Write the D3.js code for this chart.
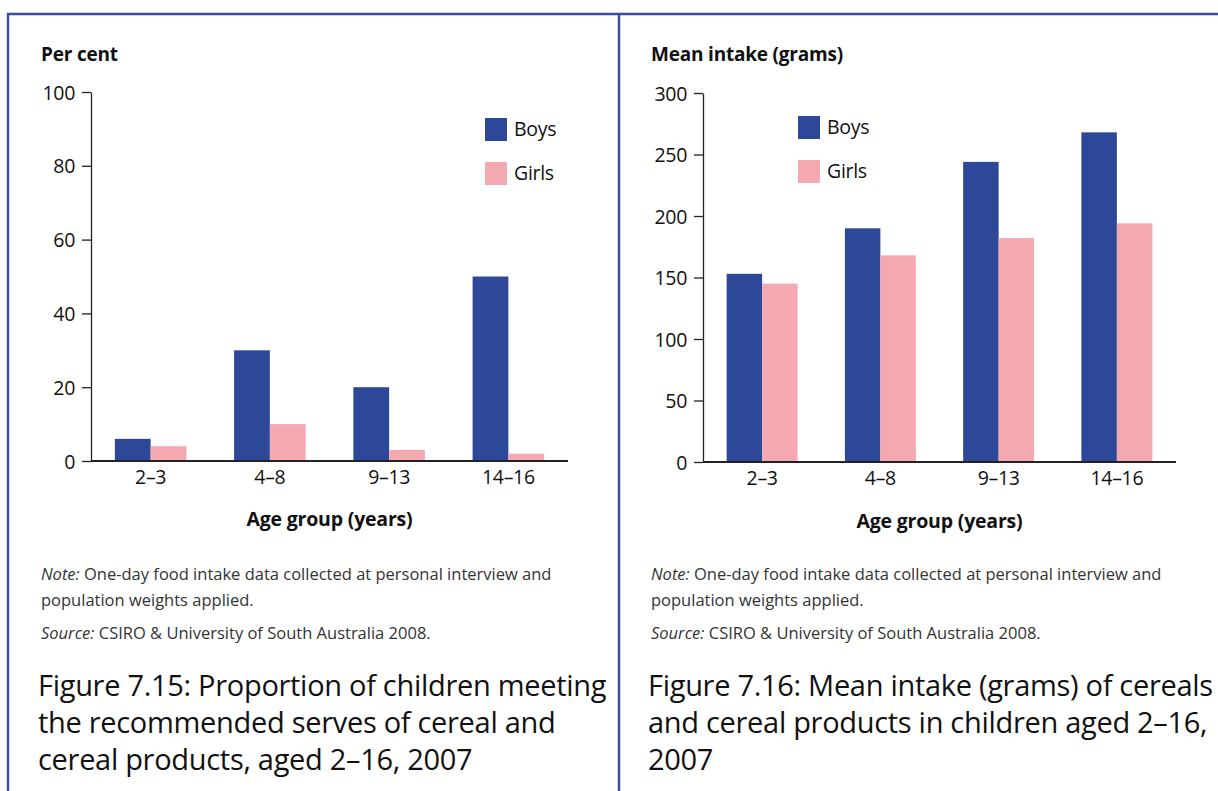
<!DOCTYPE html>
<html><head><meta charset="utf-8">
<script src="https://cdn.jsdelivr.net/npm/d3@7"></script>
<style>
body{margin:0;background:#fff;}
text{font-family:"Open Sans","Noto Sans",sans-serif;}
</style></head>
<body><svg id="c" width="1218" height="791"></svg>
<script>
const categories = ["2–3","4–8","9–13","14–16"];
const seriesNames = ["Boys","Girls"];
const boysPct = [6,30,20,50];
const girlsPct = [4,10,3,2];
const boysGrams = [153,190,244,268];
const girlsGrams = [145,168,182,194];
const pctTicks = [0,20,40,60,80,100];
const gramTicks = [0,50,100,150,200,250,300];

const colors = {Boys:"#2e4899", Girls:"#f4a8b0"};
const svg = d3.select("#c");

// frame
svg.append("line").attr("x1",7).attr("x2",1218).attr("y1",14).attr("y2",14).attr("stroke","#3a4ea3").attr("stroke-width",2.5);
svg.append("line").attr("x1",8).attr("x2",8).attr("y1",13).attr("y2",791).attr("stroke","#3a4ea3").attr("stroke-width",2.5);
svg.append("line").attr("x1",619).attr("x2",619).attr("y1",13).attr("y2",791).attr("stroke","#3a4ea3").attr("stroke-width",2.5);

function panel(o){
  const g = svg.append("g");
  const x = d3.scaleBand().domain(categories).range([o.x0,o.x1]).paddingInner(0.4).paddingOuter(0.2);
  const xs = d3.scaleBand().domain(seriesNames).range([0,x.bandwidth()]);
  const y = d3.scaleLinear().domain([0,o.max]).range([o.y0,o.y1]);
  const data = categories.map((c,i)=>({c, vals:[{s:"Boys",v:o.boys[i]},{s:"Girls",v:o.girls[i]}]}));
  g.selectAll("g.grp").data(data).join("g").attr("transform",d=>`translate(${x(d.c)},0)`)
    .selectAll("rect").data(d=>d.vals).join("rect")
    .attr("x",d=>xs(d.s)).attr("width",xs.bandwidth())
    .attr("y",d=>y(d.v)).attr("height",d=>y(0)-y(d.v)).attr("fill",d=>colors[d.s]);
  // y axis
  const ya = g.append("g").attr("transform",`translate(${o.x0},0)`)
    .call(d3.axisLeft(y).tickValues(o.ticks).tickSize(9).tickSizeOuter(0).tickPadding(7));
  ya.select(".domain").attr("stroke","#222").attr("stroke-width",1.3);
  ya.selectAll(".tick line").attr("stroke","#222").attr("stroke-width",1.3);
  ya.selectAll(".tick text").attr("font-size",19.5).attr("fill","#111").attr("font-family","Open Sans").attr("dy","0.36em").attr("letter-spacing","-0.3");
  // x axis
  const xa = g.append("g").attr("transform",`translate(0,${o.y0})`)
    .call(d3.axisBottom(x).tickSize(0).tickPadding(9));
  xa.select(".domain").attr("stroke","#222").attr("stroke-width",2).attr("d",`M${o.x0},0H${o.x1}`);
  xa.selectAll(".tick text").attr("font-size",19.5).attr("fill","#111").attr("font-family","Open Sans").attr("letter-spacing","-0.3");
  // titles
  g.append("text").attr("x",o.tx).attr("y",61).attr("font-size",19).attr("font-weight","bold").attr("letter-spacing","-0.2").attr("fill","#111").text(o.ytitle);
  g.append("text").attr("x",(o.x0+o.x1)/2).attr("y",o.xty).attr("text-anchor","middle").attr("font-size",19.5).attr("font-weight","bold").attr("letter-spacing","-0.2").attr("fill","#111").text("Age group (years)");
  // legend
  seriesNames.forEach((s,i)=>{
    g.append("rect").attr("x",o.lx).attr("y",o.ly+i*44).attr("width",22).attr("height",23).attr("fill",colors[s]);
    g.append("text").attr("x",o.lx+29).attr("y",o.ly+i*44+18).attr("font-size",19.5).attr("letter-spacing","-0.3").attr("fill","#111").text(s);
  });
  // notes
  const n = g.append("text").attr("x",o.tx).attr("y",580).attr("font-size",16.5).attr("fill","#333");
  n.append("tspan").attr("font-style","italic").text("Note:");
  n.append("tspan").text(" One-day food intake data collected at personal interview and");
  g.append("text").attr("x",o.tx).attr("y",606).attr("font-size",16.5).attr("fill","#333").text("population weights applied.");
  const s = g.append("text").attr("x",o.tx).attr("y",639).attr("font-size",16.5).attr("fill","#333");
  s.append("tspan").attr("font-style","italic").text("Source:");
  s.append("tspan").text(" CSIRO & University of South Australia 2008.");
  o.caption.forEach((line,i)=>{
    g.append("text").attr("x",o.tx-3).attr("y",696+i*37).attr("font-size",29).attr("fill","#111").attr("letter-spacing","-0.3").text(line);
  });
}

panel({x0:91,x1:568,y0:461,y1:92,max:100,boys:boysPct,girls:girlsPct,ticks:pctTicks,
  tx:41,xty:526,ytitle:"Per cent",lx:485,ly:118,
  caption:["Figure 7.15: Proportion of children meeting","the recommended serves of cereal and","cereal products, aged 2–16, 2007"]});
panel({x0:703,x1:1176,y0:462,y1:93,max:300,boys:boysGrams,girls:girlsGrams,ticks:gramTicks,
  tx:651,xty:528,ytitle:"Mean intake (grams)",lx:798,ly:116,
  caption:["Figure 7.16: Mean intake (grams) of cereals","and cereal products in children aged 2–16,","2007"]});
</script></body></html>
